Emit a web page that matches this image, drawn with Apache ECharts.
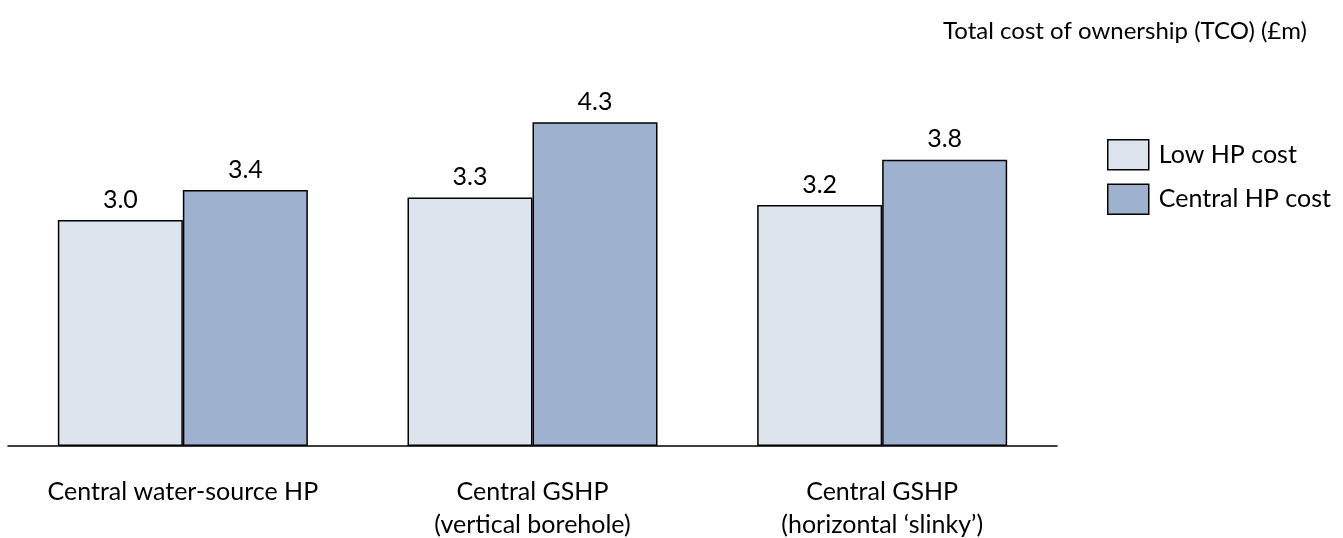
<!DOCTYPE html>
<html><head><meta charset="utf-8">
<script src="https://cdn.jsdelivr.net/npm/echarts@6/dist/echarts.min.js"></script>
<style>html,body{margin:0;padding:0;background:#fff}#c{width:1343px;height:538px}</style>
</head><body><div id="c"></div>
<script>
const categories = ['Central water-source HP', 'Central GSHP\n(vertical borehole)', 'Central GSHP\n(horizontal \u2018slinky\u2019)'];
const lowHP = [3.0, 3.3, 3.2];
const centralHP = [3.4, 4.3, 3.8];
const seriesNames = ['Low HP cost', 'Central HP cost'];
const title = 'Total cost of ownership (TCO) (\u00a3m)';
const FONT = 'Lato';
const chart = echarts.init(document.getElementById('c'), null, {renderer: 'canvas'});
const lbl = {show: true, position: 'top', distance: 8, color: '#000', fontFamily: FONT, fontSize: 25, lineHeight: 25, formatter: p => p.value.toFixed(1)};
chart.setOption({
  animation: false,
  title: {text: title, right: 31, top: 13, textStyle: {fontFamily: FONT, fontSize: 24, lineHeight: 26, fontWeight: 'normal', color: '#000'}},
  legend: {orient: 'vertical', left: 1102, top: 134, itemWidth: 41, itemHeight: 30, itemGap: 13, icon: 'rect',
    itemStyle: {borderColor: '#000', borderWidth: 1.5},
    textStyle: {fontFamily: FONT, fontSize: 25, color: '#000', padding: [0, 0, 0, 5]}, data: seriesNames},
  grid: {left: 8, right: 286, top: 69.5, bottom: 92, containLabel: false, outerBoundsMode: 'none'},
  xAxis: {type: 'category', data: categories,
    axisLine: {lineStyle: {color: '#000', width: 1.5}}, axisTick: {show: false},
    axisLabel: {interval: 0, hideOverlap: false, color: '#000', fontFamily: FONT, fontSize: 25, margin: 29, lineHeight: 33}},
  yAxis: {type: 'value', min: 0, max: 5, show: false, splitLine: {show: false}},
  series: [
    {name: seriesNames[0], type: 'bar', data: lowHP, barWidth: 125, barGap: '0%',
      itemStyle: {color: '#DDE4EE', borderColor: '#000', borderWidth: 1.5}, label: lbl},
    {name: seriesNames[1], type: 'bar', data: centralHP, barWidth: 125,
      itemStyle: {color: '#9EB1CF', borderColor: '#000', borderWidth: 1.5}, label: lbl}
  ]
});
</script></body></html>
